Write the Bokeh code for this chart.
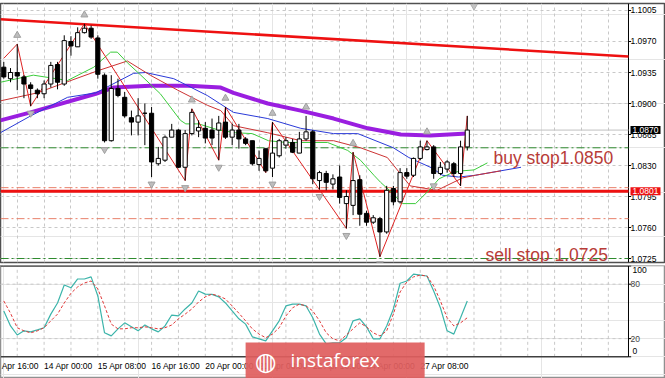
from bokeh.plotting import figure
from bokeh.layouts import column
from bokeh.models import (ColumnDataSource, LinearAxis, FixedTicker, Grid, Label, Range1d,
                          NumeralTickFormatter)
from bokeh.embed import file_html
from bokeh.resources import INLINE

# ---------------- data (EURUSD H4) ----------------
bars = list(range(70))
opens = [1.0941, 1.0928, 1.0935, 1.0930, 1.0921, 1.0915, 1.0911, 1.0922, 1.0944, 1.0922,
         1.0970, 1.0964, 1.0980, 1.0985, 1.0974, 1.0932, 1.0858, 1.0917, 1.0907, 1.0884,
         1.0879, 1.0889, 1.0889, 1.0832, 1.0836, 1.0862, 1.0870, 1.0828, 1.0866, 1.0869,
         1.0872, 1.0870, 1.0870, 1.0879, 1.0862, 1.0870, 1.0860, 1.0858, 1.0831, 1.0849,
         1.0827, 1.0841, 1.0853, 1.0856, 1.0844, 1.0860, 1.0868, 1.0813, 1.0821, 1.0809,
         1.0817, 1.0787, 1.0785, 1.0814, 1.0776, 1.0766, 1.0770, 1.0755, 1.0804, 1.0789,
         1.0822, 1.0819, 1.0838, 1.0848, 1.0851, 1.0821, 1.0826, 1.0832, 1.0821, 1.0851]
highs = [1.0947, 1.0940, 1.0967, 1.0932, 1.0924, 1.0917, 1.0926, 1.0947, 1.0947, 1.0977,
         1.0976, 1.0986, 1.0990, 1.0988, 1.0977, 1.0934, 1.0932, 1.0928, 1.0913, 1.0892,
         1.0906, 1.0900, 1.0896, 1.0851, 1.0864, 1.0877, 1.0871, 1.0870, 1.0894, 1.0881,
         1.0879, 1.0883, 1.0886, 1.0896, 1.0877, 1.0877, 1.0862, 1.0858, 1.0847, 1.0849,
         1.0879, 1.0860, 1.0862, 1.0860, 1.0868, 1.0886, 1.0870, 1.0824, 1.0824, 1.0820,
         1.0830, 1.0802, 1.0845, 1.0819, 1.0779, 1.0774, 1.0772, 1.0807, 1.0807, 1.0827,
         1.0827, 1.0839, 1.0858, 1.0858, 1.0853, 1.0834, 1.0836, 1.0834, 1.0858, 1.0886]
lows = [1.0928, 1.0924, 1.0915, 1.0906, 1.0897, 1.0906, 1.0906, 1.0918, 1.0916, 1.0920,
        1.0954, 1.0964, 1.0979, 1.0973, 1.0928, 1.0856, 1.0857, 1.0907, 1.0884, 1.0864,
        1.0864, 1.0853, 1.0817, 1.0830, 1.0834, 1.0862, 1.0827, 1.0813, 1.0864, 1.0862,
        1.0855, 1.0853, 1.0836, 1.0860, 1.0853, 1.0849, 1.0853, 1.0830, 1.0824, 1.0822,
        1.0817, 1.0839, 1.0849, 1.0844, 1.0844, 1.0858, 1.0809, 1.0803, 1.0802, 1.0803,
        1.0787, 1.0759, 1.0774, 1.0762, 1.0762, 1.0764, 1.0727, 1.0753, 1.0785, 1.0787,
        1.0815, 1.0817, 1.0836, 1.0847, 1.0815, 1.0819, 1.0822, 1.0817, 1.0807, 1.0847]
closes = [1.0930, 1.0935, 1.0931, 1.0922, 1.0917, 1.0911, 1.0922, 1.0943, 1.0924, 1.0971,
          1.0965, 1.0980, 1.0985, 1.0975, 1.0933, 1.0858, 1.0917, 1.0909, 1.0886, 1.0879,
          1.0886, 1.0889, 1.0834, 1.0838, 1.0862, 1.0870, 1.0828, 1.0866, 1.0890, 1.0873,
          1.0861, 1.0861, 1.0878, 1.0862, 1.0870, 1.0860, 1.0855, 1.0832, 1.0838, 1.0824,
          1.0844, 1.0858, 1.0858, 1.0845, 1.0860, 1.0868, 1.0815, 1.0822, 1.0811, 1.0815,
          1.0794, 1.0795, 1.0813, 1.0775, 1.0766, 1.0771, 1.0755, 1.0802, 1.0789, 1.0822,
          1.0818, 1.0838, 1.0851, 1.0851, 1.0821, 1.0828, 1.0834, 1.0821, 1.0851, 1.0870]

# long moving average (thick violet)
ma_x = [-0.5, 4, 13.7, 16.3, 21.8, 27.4, 32.3, 34.2, 39.3, 44.2, 49.1, 54.2, 59.1, 63.5, 69]
ma_y = [1.0881, 1.0890, 1.0911, 1.0918, 1.0920, 1.0920, 1.0918, 1.0912, 1.0900, 1.0892,
        1.0883, 1.0872, 1.0865, 1.0864, 1.0866]
# Alligator jaw (blue)
jaw_x = [-0.5, 4, 9.5, 13.7, 19.3, 21.1, 25.3, 30.3, 34.2, 39.3, 44.2, 49.1, 52.7, 58,
         60.3, 63.8, 65.3, 67.7, 70.2, 77]
jaw_y = [1.0867, 1.0886, 1.0907, 1.0912, 1.0934, 1.0935, 1.0928, 1.0909, 1.0890, 1.0883,
         1.0872, 1.0866, 1.0866, 1.0850, 1.0839, 1.0827, 1.0819, 1.0817, 1.0819, 1.0828]
# Alligator teeth (red)
teeth_x = [-0.5, 5, 10, 14, 18.4, 21.8, 25.9, 30.3, 32.3, 34.2, 39.3, 44.2, 49.1, 53.1,
           57.1, 60.5, 64.5, 68.3, 70.2, 74]
teeth_y = [1.0903, 1.0912, 1.0926, 1.0937, 1.0948, 1.0932, 1.0915, 1.0898, 1.0892, 1.0875,
           1.0867, 1.0858, 1.0858, 1.0850, 1.0839, 1.0807, 1.0802, 1.0816, 1.0819, 1.0824]
# Alligator lips (green)
lips_x = [-0.5, 4.4, 9.5, 13.4, 15.9, 16.9, 18.4, 20.4, 23.3, 26.3, 27.1, 29, 32, 34.5, 37,
          39.4, 42, 44.2, 48.2, 51.2, 53.1, 55.1, 56.1, 57.4, 59.4, 61.3, 63.3, 64.8, 66.8,
          68.3, 70, 72]
lips_y = [1.0924, 1.0932, 1.0926, 1.0941, 1.0958, 1.0958, 1.0946, 1.0932, 1.0911, 1.0881,
          1.0877, 1.0877, 1.0870, 1.0867, 1.0866, 1.0858, 1.0856, 1.0856, 1.0856, 1.0847,
          1.0836, 1.0819, 1.0811, 1.0802, 1.0787, 1.0787, 1.0802, 1.0815, 1.0822, 1.0824,
          1.0825, 1.0833]
# ZigZag
zz_x = [0, 2, 4, 12, 27, 28, 32, 33, 39, 40, 51, 52, 56, 63, 68, 69]
zz_y = [1.0951, 1.0967, 1.0897, 1.0990, 1.0813, 1.0894, 1.0836, 1.0896, 1.0822, 1.0879,
        1.0759, 1.0845, 1.0727, 1.0858, 1.0807, 1.0886]
# Fractals
fr_up = [2, 12, 28, 33, 40, 45, 52, 63]
fr_dn = [4, 15, 22, 27, 32, 40, 47, 51, 56, 64]
# trend line anchors
trend_x = [-0.5, 93.0]
trend_y = [1.0995, 1.0953]
# horizontal levels
level_main = 1.0801
buy_stop = 1.0850
sell_stop = 1.0725
aux_levels = [1.0805, 1.0770]
bid = 1.0870

# Stochastic
stoch_k = [50.5, 34, 24, 28.6, 27.5, 29.7, 32, 47, 59.3, 79, 76, 85.7, 85.7, 88, 67, 26.4,
           23, 30.8, 37.4, 33, 28.6, 35, 30.8, 27.5, 34, 46, 45, 52.7, 59.3, 72.5, 69, 68.7,
           66, 59.3, 50.5, 41.8, 36, 22, 19.8, 17.6, 28.6, 39.6, 56, 58, 58, 56, 43, 25,
           14.3, 15.4, 15.4, 21, 39.6, 41.8, 33, 19.8, 19.8, 34, 52.7, 81, 83.5, 91, 90, 89,
           72.5, 54, 28.6, 25, 43, 61.5]
stoch_d = [61.5, 48, 32, 28.6, 26.4, 28.6, 32, 39.6, 47, 59.3, 70, 77, 81.3, 83.5, 74.7, 56,
           36, 30.8, 30.8, 32, 32, 33, 32, 30.8, 32, 35, 41.8, 47, 52.7, 60.4, 66, 69, 67,
           63.7, 56, 48, 39.6, 30.8, 25, 21, 25, 32, 45, 54, 58, 56, 50.5, 39.6, 26.4, 19.8,
           17.6, 24, 30.8, 37.4, 33, 26.4, 23, 28.6, 47, 71.4, 82.4, 88, 90, 89, 78, 61.5, 43,
           34, 37.4, 43]

price_ticks = [1.0725, 1.0760, 1.0795, 1.0830, 1.0865, 1.0900, 1.0935, 1.0970, 1.1005]
time_ticks = [-2, 6, 14, 22, 30, 38, 46, 54, 62]
time_labels = ["10 Apr 16:00", "14 Apr 00:00", "15 Apr 08:00", "16 Apr 16:00", "20 Apr 00:00",
               "21 Apr 08:00", "22 Apr 16:00", "24 Apr 00:00", "27 Apr 08:00"]
stoch_ticks = [0, 20, 80, 100]
stoch_levels = [20, 80]

# ---------------- layout constants ----------------
FONT = "Liberation Sans"
GRID_COLOR = "#c8c8c8"
grid_x = list(range(2, 94, 4))
X_LEFT, X_EDGE, X_END = -0.49, 93.0, 98.51     # chart area ends at X_EDGE, price scale beyond
P_LO, P_HI = 1.07205, 1.10129
S_LO, S_HI = -23.9, 100.55

XR = Range1d(X_LEFT, X_END)

# ================= main price window =================
p = figure(width=665, height=265, output_backend="svg", toolbar_location=None,
           x_range=XR, y_range=Range1d(P_LO, P_HI),
           x_axis_location=None, y_axis_location=None,
           min_border_left=0, min_border_right=0, min_border_top=3, min_border_bottom=3,
           background_fill_color="white", border_fill_color="white",
           outline_line_color="#505050", outline_line_width=1.5)
p.add_layout(Grid(dimension=0, ticker=FixedTicker(ticks=grid_x), grid_line_color=GRID_COLOR,
                  grid_line_dash="3 3"))
p.segment(x0=X_LEFT, x1=X_EDGE, y0=price_ticks, y1=price_ticks, line_color=GRID_COLOR,
          line_dash="3 3", line_width=1)
yax = LinearAxis(ticker=FixedTicker(ticks=price_ticks), major_tick_out=0, major_tick_in=0,
                 minor_tick_out=0, minor_tick_in=0, major_label_standoff=-35,
                 major_label_text_font=FONT, major_label_text_font_size="8.5px",
                 major_label_text_color="black", axis_line_color=None,
                 formatter=NumeralTickFormatter(format="0.0000"))
p.add_layout(yax, "right")
# price-scale border and ticks
p.segment(x0=X_EDGE, x1=X_EDGE, y0=P_LO, y1=P_HI, line_color="black", line_width=1)
p.segment(x0=X_EDGE, x1=X_EDGE + 0.4, y0=price_ticks, y1=price_ticks, line_color="black")

# levels
p.segment(x0=X_LEFT, x1=X_EDGE, y0=bid, y1=bid, line_color="#c0c0c0", line_width=1)
p.segment(x0=X_LEFT, x1=X_EDGE, y0=aux_levels, y1=aux_levels, line_color="#e8806a",
          line_width=1, line_dash="8 3 2 3")
p.segment(x0=X_LEFT, x1=X_EDGE, y0=[buy_stop, sell_stop], y1=[buy_stop, sell_stop],
          line_color="#2e8b2e", line_width=1, line_dash="8 3 2 3")
p.segment(x0=X_LEFT, x1=X_EDGE, y0=level_main, y1=level_main, line_color="#ee1111",
          line_width=3)

# trend line
p.line(trend_x, trend_y, line_color="#ee1111", line_width=2.5)

# indicator lines
p.line(ma_x, ma_y, line_color="#9a1ee0", line_width=4)
p.line(jaw_x, jaw_y, line_color="#2a3ad8", line_width=1)
p.line(teeth_x, teeth_y, line_color="#cc3333", line_width=1)
p.line(lips_x, lips_y, line_color="#3ccc3c", line_width=1)
p.line(zz_x, zz_y, line_color="#dd2222", line_width=1)

# candles
src = ColumnDataSource(dict(x=bars, o=opens, h=highs, l=lows, c=closes,
                            top=[max(a, b) for a, b in zip(opens, closes)],
                            bot=[min(a, b) for a, b in zip(opens, closes)],
                            fill=["white" if c >= o else "black" for o, c in zip(opens, closes)]))
p.segment(x0="x", y0="h", x1="x", y1="l", source=src, line_color="black", line_width=1)
p.vbar(x="x", top="top", bottom="bot", width=0.62, source=src, fill_color="fill",
       line_color="black", line_width=1)

# fractals
p.scatter(fr_up, [highs[b] + 0.0010 for b in fr_up], marker="triangle", size=7,
          fill_color="#bdbdbd", line_color="#a0a0a0")
p.scatter(fr_dn, [lows[b] - 0.0008 for b in fr_dn], marker="inverted_triangle",
          size=7, fill_color="#bdbdbd", line_color="#a0a0a0")
p.scatter([70], [1.1010], marker="inverted_triangle", size=7, fill_color="#c4c4c4",
          line_color="#b0b0b0")

# texts inside the chart
p.add_layout(Label(x=72.9, y=buy_stop - 0.0011, text="buy stop1.0850", text_font=FONT,
                   text_font_size="17.5px", text_color="#b83c38", text_align="left",
                   text_baseline="alphabetic"))
p.add_layout(Label(x=71.7, y=sell_stop + 0.0004, text="sell stop 1.0725", text_font=FONT,
                   text_font_size="17.5px", text_color="#b83c38", text_align="left",
                   text_baseline="alphabetic"))
# price tags on the price scale
p.add_layout(Label(x=X_EDGE + 0.3, y=bid, text="1.0870", text_font=FONT, text_font_size="8.5px",
                   text_color="white", background_fill_color="black", text_align="left",
                   text_baseline="middle", padding=(2, 2, 1, 1)))
p.add_layout(Label(x=X_EDGE + 0.3, y=level_main, text="1.0801", text_font=FONT,
                   text_font_size="8.5px", text_color="white", background_fill_color="#ee1111",
                   text_align="left", text_baseline="middle", padding=(2, 2, 1, 1)))

# ================= stochastic window =================
q = figure(width=665, height=113, output_backend="svg", toolbar_location=None,
           x_range=XR, y_range=Range1d(S_LO, S_HI),
           x_axis_location=None, y_axis_location=None,
           min_border_left=0, min_border_right=0, min_border_top=0, min_border_bottom=0,
           background_fill_color="white", border_fill_color="white",
           outline_line_color="#909090", outline_line_width=1.5)
q.segment(x0=grid_x, x1=grid_x, y0=0, y1=100, line_color=GRID_COLOR, line_dash="3 3")
q.segment(x0=X_LEFT, x1=X_EDGE, y0=stoch_levels, y1=stoch_levels, line_color=GRID_COLOR,
          line_dash="3 3")
qy = LinearAxis(ticker=FixedTicker(ticks=stoch_ticks), major_tick_out=0, major_tick_in=0,
                minor_tick_out=0, minor_tick_in=0, major_label_standoff=-35,
                major_label_text_font=FONT, major_label_text_font_size="8.5px",
                axis_line_color=None, major_label_overrides={0: "", 100: ""})
q.add_layout(qy, "right")
# end labels of the 0..100 scale sit just inside the window, as in MT4
q.add_layout(Label(x=X_EDGE + 0.3, y=100, text="100", text_font=FONT, text_font_size="8.5px",
                   text_color="black", text_align="left", text_baseline="top",
                   padding=(2, 0, 1, 0)))
q.add_layout(Label(x=X_EDGE + 0.3, y=0, text="0", text_font=FONT, text_font_size="8.5px",
                   text_color="black", text_align="left", text_baseline="bottom",
                   padding=(2, 0, 0, 3)))
# window border
q.segment(x0=X_LEFT, x1=X_EDGE, y0=[0, 100], y1=[0, 100], line_color="#404040", line_width=1.5)
q.segment(x0=X_EDGE, x1=X_EDGE, y0=0, y1=100, line_color="black", line_width=1)
q.segment(x0=X_EDGE, x1=X_EDGE + 0.4, y0=stoch_ticks, y1=stoch_ticks, line_color="black")

q.line(bars, stoch_k, line_color="#3cb4aa", line_width=1.2)
q.line(bars, stoch_d, line_color="#e03a3a", line_width=1, line_dash="3 2")

for t, lab in zip(time_ticks, time_labels):
    q.add_layout(Label(x=t, y=-4.5, text=lab, text_font=FONT, text_font_size="8.5px",
                       text_color="black", text_align="left", text_baseline="top"))

# watermark
q.add_layout(Label(x=36.0, y=-5.6, text="instaforex", text_font="Open Sans",
                   text_font_size="19px", text_color="white", text_align="left",
                   text_baseline="middle", background_fill_color="#e05f5f",
                   background_fill_alpha=0.93, padding=(45, 45, 5, 8)))
q.add_layout(Label(x=39.0, y=-4.8, text="\u25cd", text_font="DejaVu Sans",
                   text_font_size="25px", text_color="white", text_align="center",
                   text_baseline="middle"))

layout = column(p, q, spacing=0)
open("out.html", "w").write(file_html(layout, INLINE))
